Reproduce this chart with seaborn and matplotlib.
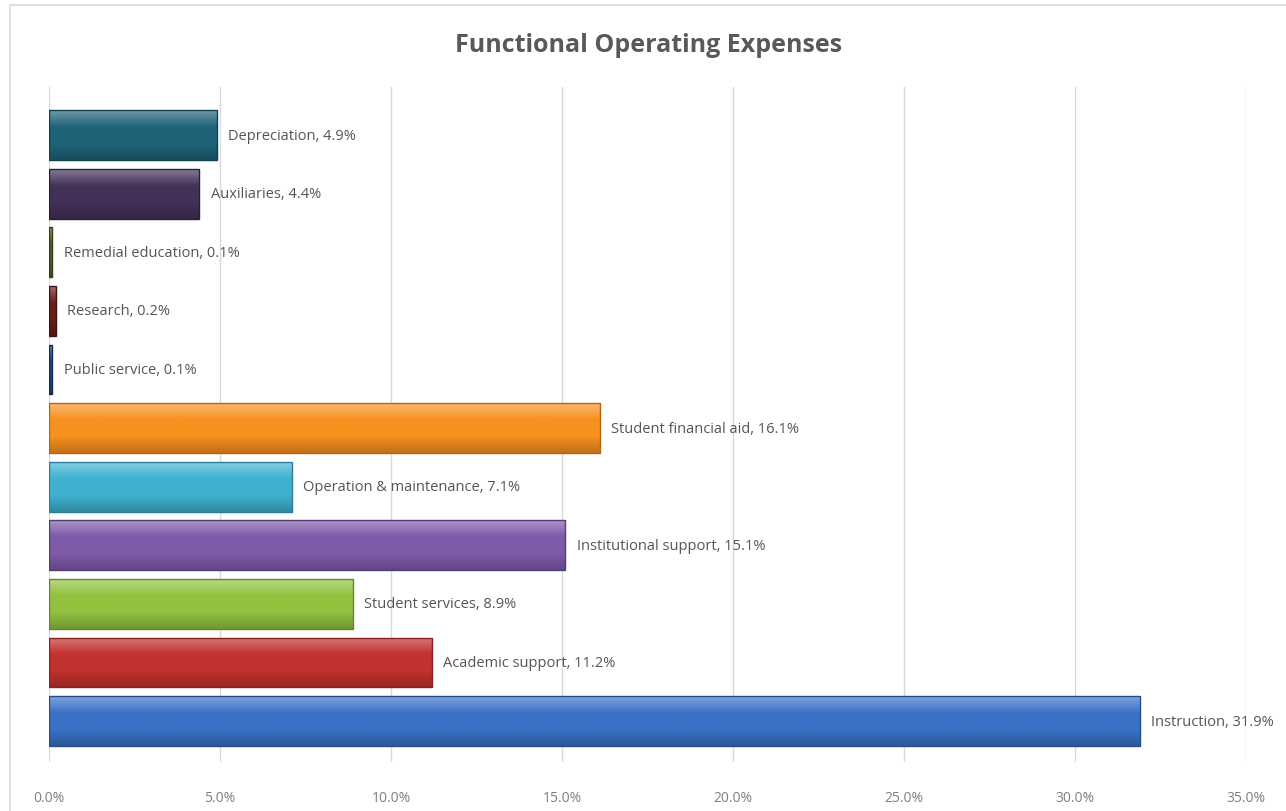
import matplotlib
matplotlib.use("Agg")
import matplotlib.pyplot as plt
import seaborn as sns
import pandas as pd
import numpy as np
from matplotlib.patches import Rectangle
from matplotlib.ticker import FuncFormatter
from matplotlib.colors import LinearSegmentedColormap, to_rgb

# top-to-bottom order as in the chart
categories = ["Depreciation", "Auxiliaries", "Remedial education", "Research",
              "Public service", "Student financial aid", "Operation & maintenance",
              "Institutional support", "Student services", "Academic support",
              "Instruction"]
values = [4.9, 4.4, 0.1, 0.2, 0.1, 16.1, 7.1, 15.1, 8.9, 11.2, 31.9]
colors = ["#1f6378", "#433158", "#4f6228", "#6b1d1b", "#1f497d", "#f7911f",
          "#3fb1d0", "#7e5aa8", "#92c13f", "#c2322f", "#3a72c6"]
edges = ["#123f4d", "#2a1f3a", "#333f19", "#3f1110", "#122c4b", "#b86510",
         "#2a7f97", "#553c73", "#65872a", "#872220", "#254f8c"]
xticks = [0, 5, 10, 15, 20, 25, 30, 35]

df = pd.DataFrame({"category": categories, "value": values})

sns.set_style("white")
plt.rcParams["font.family"] = ["Open Sans", "DejaVu Sans"]

fig = plt.figure(figsize=(12.86, 8.12), dpi=100)
ax = fig.add_axes([0.0381, 0.0603, 0.9308, 0.8313])

sns.barplot(data=df, x="value", y="category", order=categories, hue="category",
            palette=colors, legend=False, width=0.85, orient="h", ax=ax,
            linewidth=1, saturation=1)

ax.set_xlim(0, 35)
ax.set_ylim(len(categories) - 0.3, -0.82)

# office-style shading on each bar
grad = np.linspace(0, 1, 64).reshape(-1, 1)
for bar, col, ec in zip(ax.patches, colors, edges):
    base = np.array(to_rgb(col))
    light = base + (1 - base) * 0.35
    dark = base * 0.78
    cmap = LinearSegmentedColormap.from_list("g", [light, base, base, dark])
    x0, y0, w, h = bar.get_x(), bar.get_y(), bar.get_width(), bar.get_height()
    im = ax.imshow(grad, cmap=cmap, aspect="auto", origin="upper",
                   extent=[x0, x0 + w, y0 + h, y0], zorder=3)
    im.set_clip_path(bar)
    bar.set_edgecolor(ec)
    bar.set_zorder(3.5)
    bar.set_facecolor("none")

ax.set_xlim(0, 35)
ax.set_ylim(len(categories) - 0.3, -0.82)

for i, (cat, val) in enumerate(zip(categories, values)):
    ax.annotate(f"{cat}, {val}%", xy=(val, i), xytext=(8, 0),
                textcoords="offset points", va="center", ha="left",
                fontsize=10.5, color="#555555", zorder=4)

ax.set_xticks(xticks)
ax.xaxis.set_major_formatter(FuncFormatter(lambda v, p: f"{v:.1f}%"))
ax.tick_params(axis="x", labelsize=10, labelcolor="#7f7f7f", length=0, pad=20)
ax.set_yticks([])
ax.set_xlabel("")
ax.set_ylabel("")
ax.grid(axis="x", color="#d9d9d9", linewidth=1, zorder=0)
ax.set_axisbelow(True)
for s in ax.spines.values():
    s.set_visible(False)

fig.text(0.5047, 0.944, "Functional Operating Expenses", ha="center", va="center",
         fontsize=18, fontweight="bold", color="#595959")

fig.patches.append(Rectangle((10 / 1286, -0.05), 1.2, 1 - 6 / 812 + 0.05,
                             transform=fig.transFigure, fill=False,
                             edgecolor="#d9d9d9", linewidth=1.2))

fig.savefig("out.png", dpi=100, facecolor="white")
